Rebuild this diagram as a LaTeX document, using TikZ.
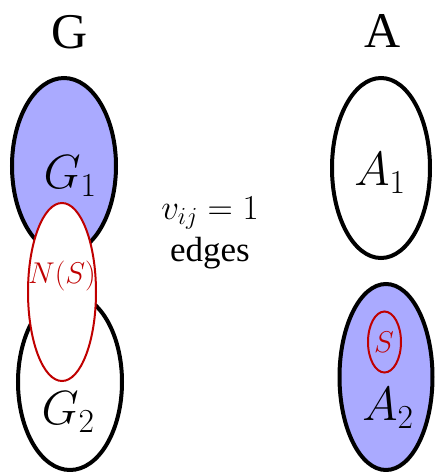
\RequirePackage{fix-cm}
\documentclass[tikz,border=0pt]{standalone}
\usepackage{fontspec}
\setmainfont{Liberation Serif}
\usetikzlibrary{shapes.geometric}
\definecolor{setblue}{HTML}{AAAAFF}
\definecolor{setred}{HTML}{C00000}
\tikzset{
  bigset/.style={ellipse, draw=black, line width=4pt, inner sep=0pt},
  redset/.style={ellipse, draw=setred, line width=2pt, inner sep=0pt},
  title/.style={font=\fontsize{50}{50}\selectfont},
  setlabel/.style={font=\fontsize{48}{48}\selectfont},
  redlabel/.style={text=setred, font=\fontsize{30}{30}\selectfont},
  midlabel/.style={font=\fontsize{35}{35}\selectfont}
}
\begin{document}
\begin{tikzpicture}[x=1pt,y=-1pt]
\useasboundingbox (0,0) rectangle (435,472);
% titles
\node[title] (tG) at (70,32) {G};
\node[title] (tA) at (383,31) {A};
% left side
\node[bigset, fill=setblue, minimum width=104pt, minimum height=176pt] (G1) at (64,166) {};
\node[bigset, fill=white, minimum width=104pt, minimum height=176pt] (G2) at (70,382) {};
\node[redset, fill=white, minimum width=68pt, minimum height=178pt] (NS) at (62,292) {};
\node[setlabel] (G1l) at (70,176) {$G_1$};
\node[setlabel] (G2l) at (68,412) {$G_2$};
\node[redlabel] (NSl) at (62,276) {$N(S)$};
% middle
\node[midlabel] (mid1) at (210,213) {$v_{ij}=1$};
\node[midlabel] (mid2) at (210,253) {edges};
% right side
\node[bigset, fill=white, minimum width=98pt, minimum height=180pt] (A1) at (381,168) {};
\node[bigset, fill=setblue, minimum width=93pt, minimum height=186pt] (A2) at (386,377) {};
\node[redset, fill=setblue, minimum width=33pt, minimum height=61pt] (S) at (384.5,342) {};
\node[setlabel] (A1l) at (380,173) {$A_1$};
\node[setlabel] (A2l) at (388,408) {$A_2$};
\node[redlabel] (Sl) at (384,342) {$S$};
\end{tikzpicture}
\end{document}
